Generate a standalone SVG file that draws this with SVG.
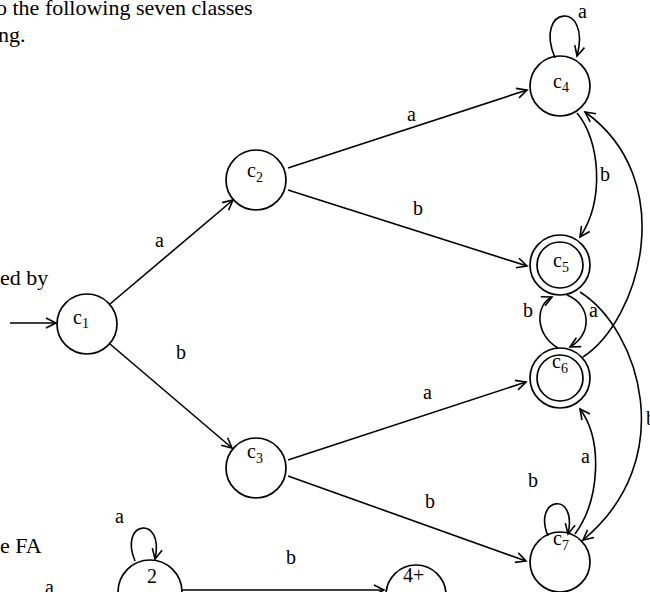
<svg xmlns="http://www.w3.org/2000/svg" width="650" height="592" viewBox="0 0 650 592">
<style>
.n{fill:none;stroke:#000;stroke-width:1.7}
.e{fill:none;stroke:#000;stroke-width:1.6}
.t{font-family:"Liberation Serif","Times New Roman",serif;font-size:22px;fill:#000}
.l{font-family:"Liberation Serif","Times New Roman",serif;font-size:20px;fill:#000}
.s{font-size:14px}
</style>
<defs>
<marker id="arr" markerWidth="14" markerHeight="14" refX="12" refY="7" orient="auto" markerUnits="userSpaceOnUse">
<path d="M2,2 L12,7 L2,12" fill="none" stroke="#000" stroke-width="1.6"/>
</marker>
</defs>
<rect width="650" height="592" fill="#fff"/>
<g id="text">
<text class="t" x="-4" y="15">o the following seven classes</text>
<text class="t" x="-2" y="42">ng.</text>
<text class="t" x="0" y="285">ed by</text>
<text class="t" x="0" y="553">e FA</text>
</g>
<g id="c1"><circle class="n" cx="87" cy="324" r="30"/><text class="l" x="73" y="324">c<tspan class="s" dy="4">1</tspan></text></g>
<g id="c2"><circle class="n" cx="256" cy="180" r="30"/><text class="l" x="247" y="177">c<tspan class="s" dy="5">2</tspan></text></g>
<g id="c3"><circle class="n" cx="256" cy="468" r="30"/><text class="l" x="247" y="458">c<tspan class="s" dy="5">3</tspan></text></g>
<g id="c4"><circle class="n" cx="560" cy="86" r="30"/><text class="l" x="553" y="88">c<tspan class="s" dy="4">4</tspan></text></g>
<g id="c5"><circle class="n" cx="560" cy="265" r="30"/><circle class="n" cx="560" cy="265" r="23"/><text class="l" x="553" y="267">c<tspan class="s" dy="5">5</tspan></text></g>
<g id="c6"><circle class="n" cx="560" cy="378" r="30"/><circle class="n" cx="560" cy="378" r="23"/><text class="l" x="552" y="368">c<tspan class="s" dy="5">6</tspan></text></g>
<g id="c7"><circle class="n" cx="560" cy="562" r="30"/><text class="l" x="553" y="545">c<tspan class="s" dy="5">7</tspan></text></g>
<g id="n2"><circle class="n" cx="150" cy="592" r="32"/><text class="l" x="147" y="583">2</text></g>
<g id="n4"><circle class="n" cx="416" cy="595" r="30"/><text class="l" x="403" y="582">4+</text></g>
<g id="connectors">
<path class="e" d="M10,323 L56,323" marker-end="url(#arr)"/>
<path class="e" d="M110,304 L233,200" marker-end="url(#arr)"/>
<path class="e" d="M110,344 L232,448" marker-end="url(#arr)"/>
<path class="e" d="M288,168 L527,90" marker-end="url(#arr)"/>
<path class="e" d="M288,190 L527,266" marker-end="url(#arr)"/>
<path class="e" d="M288,460 L526,382" marker-end="url(#arr)"/>
<path class="e" d="M288,476 L526,561" marker-end="url(#arr)"/>
<path class="e" d="M555,58 C533,5 592,0 577,56" marker-end="url(#arr)"/>
<path class="e" d="M577,113 C600,140 605,200 580,237" marker-end="url(#arr)"/>
<path class="e" d="M583,357 C640,320 680,180 585,112" marker-end="url(#arr)"/>
<path class="e" d="M580,292 C640,330 680,460 583,540" marker-end="url(#arr)"/>
<path class="e" d="M558,348 C535,335 535,305 552,297" marker-end="url(#arr)"/>
<path class="e" d="M567,295 C592,305 592,335 570,347" marker-end="url(#arr)"/>
<path class="e" d="M575,534 C600,500 603,440 580,409" marker-end="url(#arr)"/>
<path class="e" d="M548,536 C532,497 578,490 568,534" marker-end="url(#arr)"/>
<path class="e" d="M135,561 C118,520 165,515 155,559" marker-end="url(#arr)"/>
<path class="e" d="M182,590 L384,590" marker-end="url(#arr)"/>
</g>
<g id="labels">
<text class="l" x="155" y="247">a</text>
<text class="l" x="176" y="359">b</text>
<text class="l" x="407" y="121">a</text>
<text class="l" x="413" y="215">b</text>
<text class="l" x="423" y="399">a</text>
<text class="l" x="425" y="508">b</text>
<text class="l" x="578" y="18">a</text>
<text class="l" x="600" y="181">b</text>
<text class="l" x="523" y="317">b</text>
<text class="l" x="589" y="317">a</text>
<text class="l" x="581" y="463">a</text>
<text class="l" x="528" y="487">b</text>
<text class="l" x="646" y="425">b</text>
<text class="l" x="286" y="564">b</text>
<text class="l" x="115" y="523">a</text>
<text class="l" x="45" y="594">a</text>
</g>
</svg>
